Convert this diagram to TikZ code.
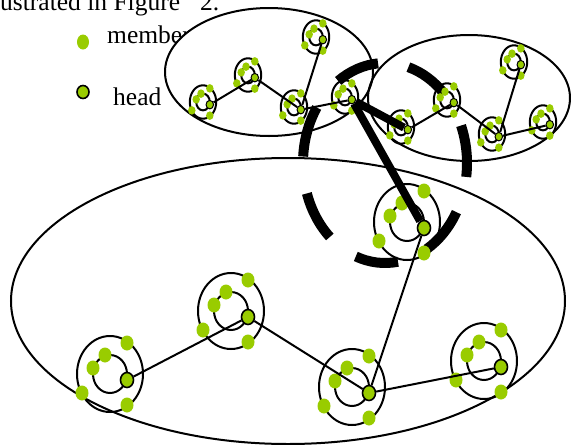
\documentclass[tikz,border=0pt]{standalone}
\usepackage{fontspec}
\setmainfont{Liberation Serif}
\usetikzlibrary{shapes.geometric}
\definecolor{leafgreen}{RGB}{153,204,0}

\begin{document}
\begin{tikzpicture}[
	x=1pt, y=-1pt,
	% styles for the clusters
	ring/.style={draw, line width=2pt},
	member/.style={ellipse, fill=leafgreen, inner sep=0pt},
	head/.style={member, draw=black},
	bigdot/.style={minimum width=13pt, minimum height=15pt, line width=1.6pt},
	smalldot/.style={minimum width=7.5pt, minimum height=8.5pt, line width=1pt},
	group/.style={line width=2pt},
	link/.style={line width=2pt},
	bold link/.style={line width=8pt},
	dashring/.style={line width=10pt},
	label text/.style={font=\fontsize{25.5pt}{30pt}\selectfont, anchor=base west, inner sep=0pt},
	cluster/.pic={
		\draw[ring] (0,0) ellipse [x radius=33, y radius=38];
		\draw[ring] (0,0) ellipse [x radius=17, y radius=19];
		\foreach \p [count=\i] in {(17,-31),(-5,-19),(-17,-6),(-28,19),(17,31)}
			\node[member,#1] (-m\i) at \p {};
		\node[head,#1] (-head) at (17,6) {};
	}
	]
	
	\clip (0,0) rectangle (571,445);
	
	% text and key
	\node[label text] (caption) at (0,10) {ustrated in Figure\hspace{20pt}2.};
	\node[member, minimum width=12pt, minimum height=15pt] (keymember) at (83,42) {};
	\node[head, bigdot, minimum width=12pt, minimum height=13pt] (keyhead) at (83,92) {};
	\node[label text] (membertext) at (107,43) {member};
	\node[label text] (headtext) at (113,105) {head};
	
	% the three groups
	\draw[group, fill=white] (269,72) ellipse [x radius=104, y radius=64];
	\draw[group] (469,98) ellipse [x radius=101, y radius=63];
	\draw[group] (288,301) ellipse [x radius=277, y radius=143];
	
	% dashed ring round the shared cluster
	\foreach \k in {0,...,6}
		\draw[dashring] (385,163) ++({338+51.43*\k}:82 and 100)
			arc [start angle={338+51.43*\k}, delta angle=30, x radius=82, y radius=100];
	
	% top left group
	\pic[xscale=0.4, yscale=0.44] (L1) at (203,102) {cluster=smalldot};
	\pic[xscale=0.4, yscale=0.44] (L2) at (248,75) {cluster=smalldot};
	\pic[xscale=0.4, yscale=0.44] (L3) at (294,107) {cluster=smalldot};
	\pic[xscale=0.4, yscale=0.44] (L4) at (316,37) {cluster=smalldot};
	\pic[xscale=0.4, yscale=0.44] (L5) at (345,97) {cluster=smalldot};
	
	% top right group
	\pic[xscale=0.4, yscale=0.44] (R1) at (401,127) {cluster=smalldot};
	\pic[xscale=0.4, yscale=0.44] (R2) at (447,100) {cluster=smalldot};
	\pic[xscale=0.4, yscale=0.44] (R3) at (492,134) {cluster=smalldot};
	\pic[xscale=0.4, yscale=0.44] (R4) at (514,62) {cluster=smalldot};
	\pic[xscale=0.4, yscale=0.44] (R5) at (543,122) {cluster=smalldot};
	
	% bottom group
	\pic (B1) at (110,374) {cluster=bigdot};
	\pic (B2) at (231,311) {cluster=bigdot};
	\pic (B3) at (352,387) {cluster=bigdot};
	\pic (B4) at (484,361) {cluster=bigdot};
	\pic (B5) at (407,222) {cluster=bigdot};
	
	% --- links ---
	\draw[link] (L1-head) -- (L2-head);
	\draw[link] (L2-head) -- (L3-head);
	\draw[link] (L3-head) -- (L4-head);
	\draw[link] (L3-head) -- (L5-head);
	
	\draw[link] (R1-head) -- (R2-head);
	\draw[link] (R2-head) -- (R3-head);
	\draw[link] (R3-head) -- (R4-head);
	\draw[link] (R3-head) -- (R5-head);
	
	\draw[link] (B1-head) -- (B2-head);
	\draw[link] (B2-head) -- (B3-head);
	\draw[link] (B3-head) -- (B4-head);
	\draw[link] (B3-head) -- (B5-head);
	
	\draw[bold link] (L5-head) -- (R1-head);
	\draw[bold link] (L5-head) -- (B5-head);
\end{tikzpicture}
\end{document}
